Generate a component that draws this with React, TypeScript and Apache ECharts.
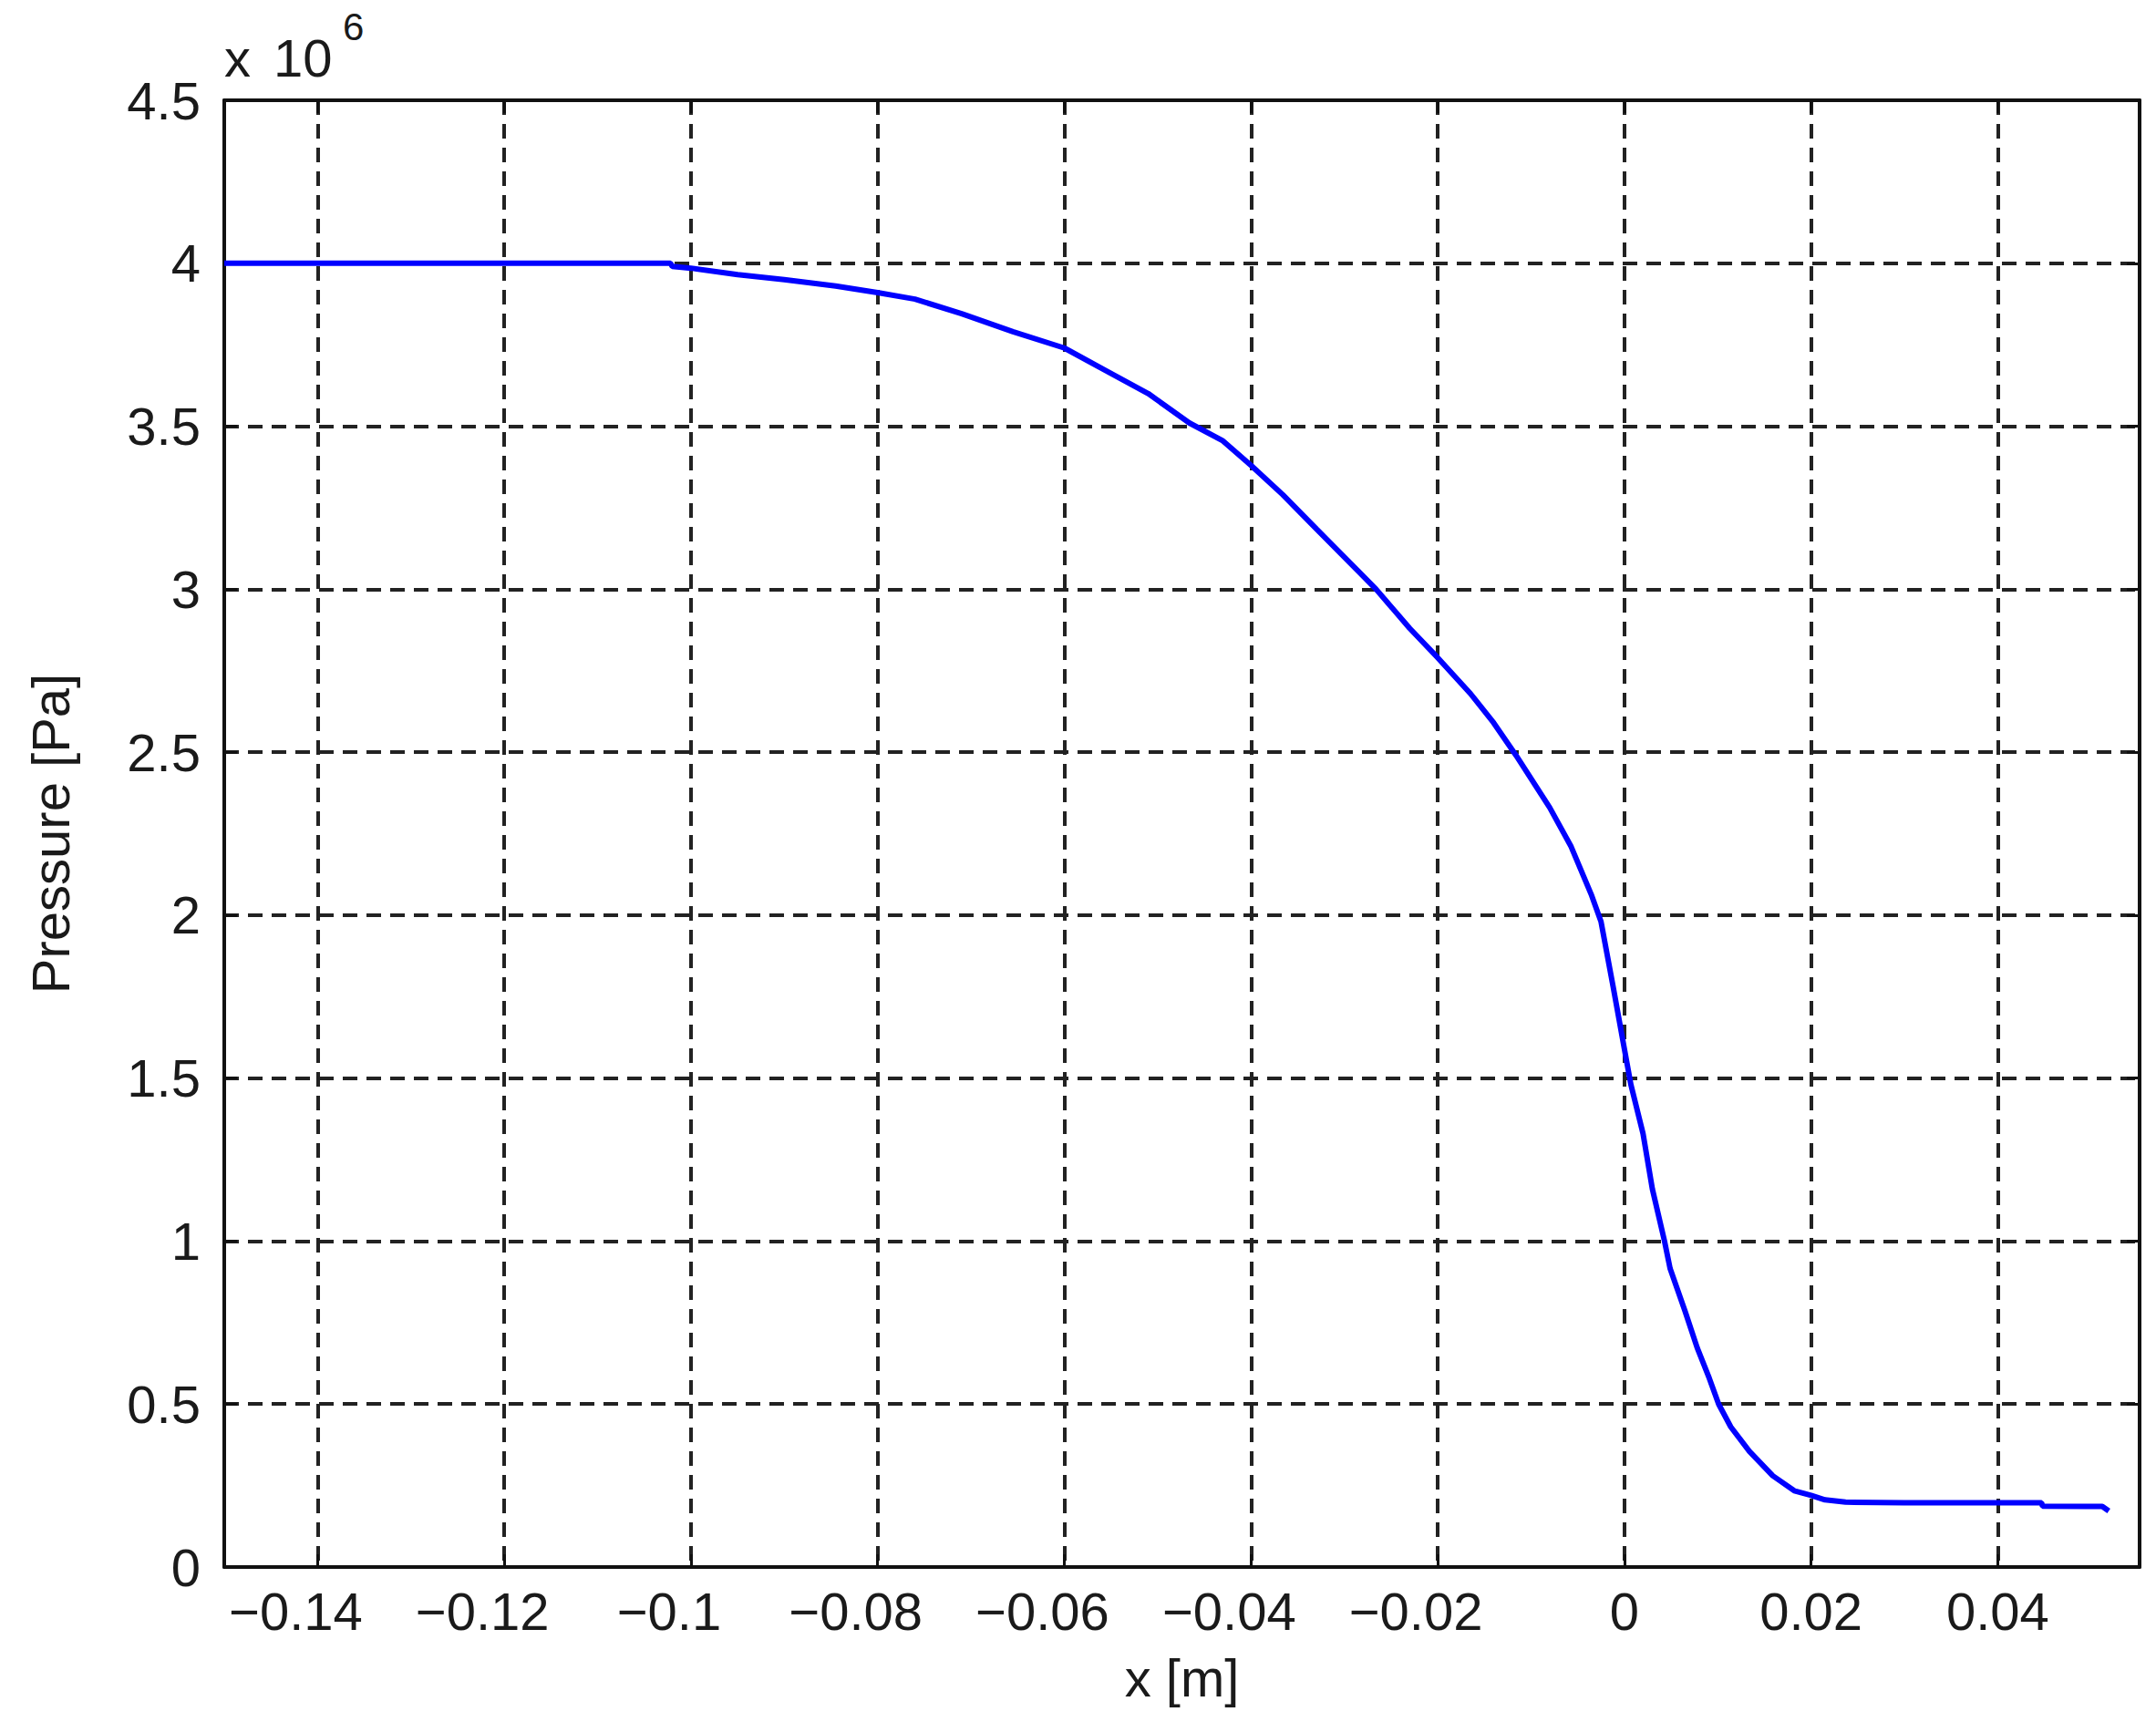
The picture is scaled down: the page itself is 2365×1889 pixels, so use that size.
import * as echarts from "echarts";
import { useEffect, useRef } from "react";

// x position [m]
const positions = [
  -0.15, -0.125, -0.1022, -0.102, -0.1, -0.095, -0.09, -0.0845, -0.08, -0.076,
  -0.071, -0.0655, -0.06, -0.0555, -0.051, -0.0466, -0.043, -0.04, -0.0366,
  -0.033, -0.0285, -0.0266, -0.023, -0.02, -0.0165, -0.014, -0.0116, -0.008,
  -0.0057, -0.0035, -0.0025, -0.0012, 0.0, 0.0007, 0.002, 0.003, 0.0043,
  0.0049, 0.0065, 0.0078, 0.0091, 0.0101, 0.0114, 0.0134, 0.0159, 0.0182, 0.02,
  0.0215, 0.0237, 0.03, 0.0447, 0.0448, 0.0512, 0.0519,
];

// pressure [Pa]
const pressures = [
  4.0e6, 4.0e6, 4.0e6, 3.99e6, 3.985e6, 3.965e6, 3.95e6, 3.93e6, 3.91e6, 3.89e6,
  3.845e6, 3.79e6, 3.74e6, 3.67e6, 3.6e6, 3.51e6, 3.455e6, 3.38e6, 3.29e6,
  3.185e6, 3.055e6, 3.0e6, 2.88e6, 2.79e6, 2.68e6, 2.59e6, 2.49e6, 2.33e6,
  2.21e6, 2.06e6, 1.98e6, 1.78e6, 1.59e6, 1.48e6, 1.33e6, 1.16e6, 1.0e6,
  0.916e6, 0.785e6, 0.673e6, 0.579e6, 0.5e6, 0.43e6, 0.355e6, 0.28e6, 0.234e6,
  0.22e6, 0.206e6, 0.199e6, 0.197e6, 0.197e6, 0.187e6, 0.186e6, 0.172e6,
];

const xTicks = [-0.14, -0.12, -0.1, -0.08, -0.06, -0.04, -0.02, 0, 0.02, 0.04];
const xRange = [-0.15, 0.0552];
const yRange = [0, 4.5e6];
const yStep = 0.5e6;

const FONT = '"Liberation Sans", Arial, sans-serif';
const INK = "#1a1a1a";
const SIZE = 58;

const gridDash = { color: "#222", width: 4, type: [16, 10] as number[] };
const frame = { color: "#111", width: 4 };
const tick = { color: "#111", width: 3 };

export default function App() {
  const chartRef = useRef<HTMLDivElement>(null);

  useEffect(() => {
    if (!chartRef.current) return;
    const chart = echarts.init(chartRef.current, undefined, { renderer: "svg" });

    // MATLAB centres the digits and lets the minus sign hang to the left
    const xFmt = (v: number) => (v < 0 ? `−${Math.abs(v)}{p| }` : String(v));

    chart.setOption({
      animation: false,
      backgroundColor: "#ffffff",
      grid: { left: 246, right: 18, top: 110, bottom: 170 },
      xAxis: [
        {
          type: "value",
          min: xRange[0],
          max: xRange[1],
          name: "x [m]",
          nameLocation: "middle",
          nameGap: 92,
          nameTextStyle: { fontFamily: FONT, fontSize: SIZE, color: INK },
          axisLine: { onZero: false, lineStyle: frame },
          axisTick: { inside: true, length: 14, customValues: xTicks, lineStyle: tick },
          axisLabel: {
            customValues: xTicks,
            formatter: xFmt,
            fontFamily: FONT,
            fontSize: SIZE,
            color: INK,
            margin: 19,
            rich: { p: { width: 48, fontSize: SIZE, fontFamily: FONT } },
          },
          splitLine: { show: true, customValues: xTicks, lineStyle: gridDash },
        },
        {
          type: "value",
          position: "top",
          min: xRange[0],
          max: xRange[1],
          axisLine: { onZero: false, lineStyle: frame },
          axisTick: { inside: true, length: 14, customValues: xTicks, lineStyle: tick },
          axisLabel: { show: false },
          splitLine: { show: false },
        },
      ],
      yAxis: [
        {
          type: "value",
          min: yRange[0],
          max: yRange[1],
          interval: yStep,
          name: "Pressure [Pa]",
          nameLocation: "middle",
          nameGap: 162,
          nameTextStyle: { fontFamily: FONT, fontSize: SIZE, color: INK },
          axisLine: { show: true, onZero: false, lineStyle: frame },
          axisTick: { show: true, inside: true, length: 14, lineStyle: tick },
          axisLabel: {
            formatter: (v: number) => String(+(v / 1e6).toFixed(1)),
            fontFamily: FONT,
            fontSize: SIZE,
            color: INK,
            margin: 26,
          },
          splitLine: { show: true, lineStyle: gridDash },
        },
        {
          type: "value",
          position: "right",
          min: yRange[0],
          max: yRange[1],
          interval: yStep,
          axisLine: { show: true, onZero: false, lineStyle: frame },
          axisTick: { show: true, inside: true, length: 14, lineStyle: tick },
          axisLabel: { show: false },
          splitLine: { show: false },
        },
      ],
      graphic: [
        {
          type: "text",
          left: 246,
          top: 34,
          style: { text: "x", font: `${SIZE}px ${FONT}`, fill: INK },
        },
        {
          type: "text",
          left: 300,
          top: 34,
          style: { text: "10", font: `${SIZE}px ${FONT}`, fill: INK },
        },
        {
          type: "text",
          left: 376,
          top: 8,
          style: { text: "6", font: `42px ${FONT}`, fill: INK },
        },
      ],
      series: [
        {
          type: "line",
          xAxisIndex: 0,
          yAxisIndex: 0,
          showSymbol: false,
          symbol: "none",
          lineStyle: { color: "#0000ff", width: 6 },
          data: positions.map((x, i) => [x, pressures[i]]),
        },
      ],
    });

    return () => chart.dispose();
  }, []);

  return (
    <div
      ref={chartRef}
      style={{ position: "fixed", left: 0, top: 0, width: 2365, height: 1889, background: "#fff" }}
    />
  );
}
